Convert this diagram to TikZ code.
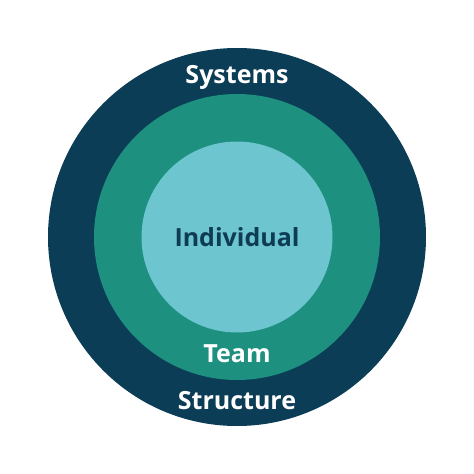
\documentclass[tikz,border=0pt]{standalone}
\usepackage{fontspec}
\setmainfont{Open Sans}
\definecolor{outerc}{HTML}{0B3D56}
\definecolor{midc}{HTML}{1E9080}
\definecolor{innerc}{HTML}{6CC5CF}
\definecolor{darktext}{HTML}{0E3B55}
\begin{document}
\begin{tikzpicture}[x=1pt,y=-1pt,
  ring/.style={circle,inner sep=0pt,draw=none},
  lbl/.style={font=\fontsize{25}{28}\selectfont\bfseries,text=white,inner sep=0pt,anchor=base}]
\useasboundingbox[fill=white] (0,0) rectangle (474,474);
\node[ring,fill=outerc,minimum size=378pt] (outer) at (237,237) {};
\node[ring,fill=midc,minimum size=286pt] (middle) at (237,237) {};
\node[ring,fill=innerc,minimum size=191pt] (inner) at (237,237) {};
\node[lbl] (systems) at (237,83) {Systems};
\node[lbl,text=darktext] (individual) at (237,246) {Individual};
\node[lbl] (team) at (237,362) {Team};
\node[lbl] (structure) at (237,409) {Structure};
\end{tikzpicture}
\end{document}
